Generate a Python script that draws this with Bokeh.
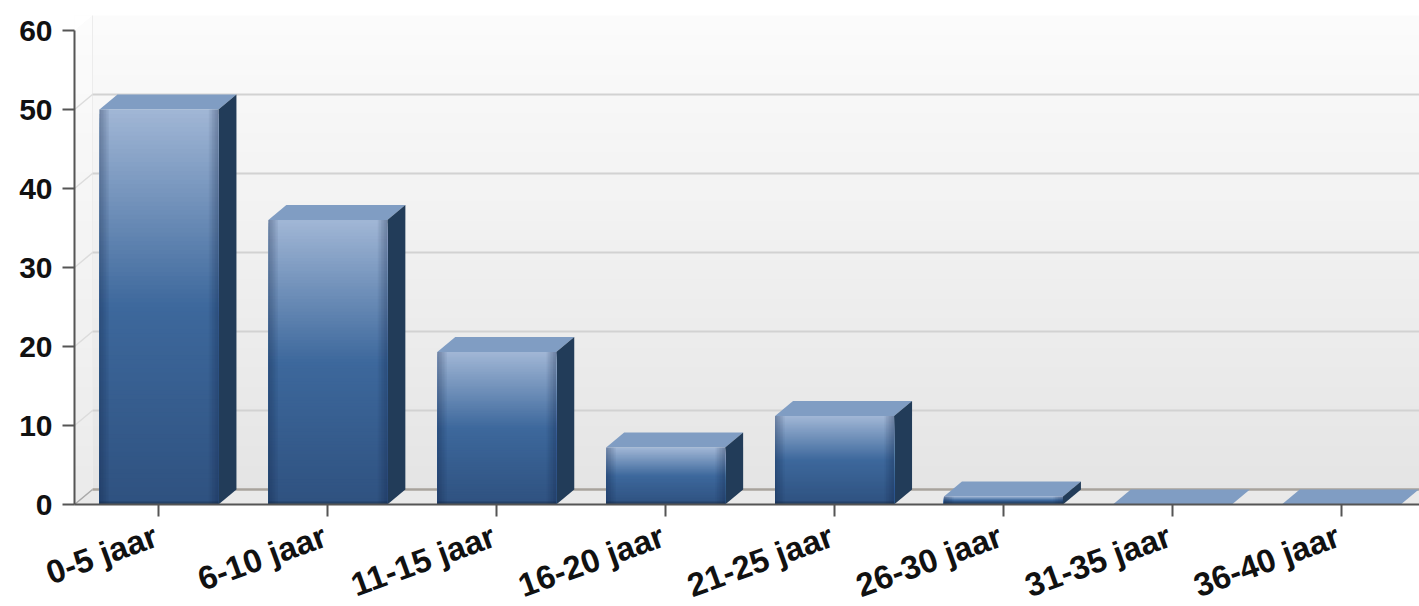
import math
from bokeh.plotting import figure
from bokeh.models import Range1d, FixedTicker
from bokeh.core.properties import value
from bokeh.embed import file_html
from bokeh.resources import INLINE

categories = ["0-5 jaar", "6-10 jaar", "11-15 jaar", "16-20 jaar", "21-25 jaar", "26-30 jaar", "31-35 jaar", "36-40 jaar"]
values = [50, 36, 19.3, 7.2, 11.2, 1, 0, 0]
y_ticks = [0, 10, 20, 30, 40, 50, 60]

UNIT_X = 168.9
UNIT_Y = 7.9
DX = 18 / UNIT_X
DY = 15 / UNIT_Y
BAR_W = 119 / UNIT_X
X_END = 1345 / UNIT_X
X_START = -74 / UNIT_X
WALL_TOP = 60 + DY
Y_END = WALL_TOP + 15 / UNIT_Y
Y_START = -102 / UNIT_Y


def hexmix(a, b, t):
    ca = [int(a[i:i + 2], 16) for i in (1, 3, 5)]
    cb = [int(b[i:i + 2], 16) for i in (1, 3, 5)]
    return "#%02x%02x%02x" % tuple(round(x + (y - x) * t) for x, y in zip(ca, cb))


def ramp(t):
    if t < 0.5:
        return hexmix("#a0b6d5", "#3d689c", t / 0.5)
    return hexmix("#3d689c", "#2f5280", (t - 0.5) / 0.5)


p = figure(width=1419, height=606, output_backend="svg", toolbar_location=None,
           x_range=Range1d(X_START, X_END), y_range=Range1d(Y_START, Y_END),
           min_border_left=0, min_border_right=0, min_border_top=0, min_border_bottom=0,
           outline_line_color=None, background_fill_color="white")
p.grid.visible = False

# back wall gradient
N = 50
for i in range(N):
    t = i / (N - 1)
    top = WALL_TOP * (1 - i / N)
    p.quad(left=0, right=X_END, top=top, bottom=0, fill_color=hexmix("#fbfbfb", "#e4e4e4", t), line_color=None)

# left wall
p.patch([0, DX, DX, 0], [0, DY, WALL_TOP, 60], fill_color="#ffffff", fill_alpha=0.25, line_color=None)
p.patch([0, DX, 0], [60, WALL_TOP, WALL_TOP], fill_color="#ffffff", line_color=None)
p.line([DX, DX], [DY, WALL_TOP], line_color="#ececec", line_width=1)

# floor
p.patch([0, DX, X_END, X_END, 0], [0, DY, DY, 0, 0], fill_color="#e9e9e9", line_color=None)

# grid lines on wall and side wall
for v in y_ticks[1:-1]:
    p.line([DX, X_END], [v + DY, v + DY], line_color="#d2d2d2", line_width=2)
    p.line([0, DX], [v, v + DY], line_color="#dcdcdc", line_width=1.5)
p.line([DX, X_END], [DY, DY], line_color="#a8a39c", line_width=2.5)
p.line([0, DX], [0, DY], line_color="#a8a8a8", line_width=1.5)

# bars
for i, v in enumerate(values):
    c = i + 0.5
    l, r = c - BAR_W / 2, c + BAR_W / 2
    # top face
    p.patch([l, l + DX, r + DX, r], [v, v + DY, v + DY, v], fill_color="#809dc3", line_color=None)
    if v <= 0:
        continue
    # side face
    p.patch([r, r + DX, r + DX, r], [0, DY, v + DY, v], fill_color="#223c59", line_color=None)
    # front face gradient
    S = 90
    for s in range(S):
        p.quad(left=l, right=r, top=v * (1 - s / S), bottom=0, fill_color=ramp(s / (S - 1)), line_color=None)
    # edge shading
    E = 6
    for e in range(E):
        w = (E - e) * 1.6 / UNIT_X
        p.quad(left=l, right=l + w, top=v, bottom=0, fill_color="#10243c", fill_alpha=0.06, line_color=None)
        p.quad(left=r - w, right=r, top=v, bottom=0, fill_color="#10243c", fill_alpha=0.06, line_color=None)
    # bottom dark
    p.quad(left=l, right=r, top=min(v, 3 / UNIT_Y), bottom=0, fill_color="#10243c", fill_alpha=0.35, line_color=None)

# axes
xa = p.xaxis[0]
ticks = [i + 0.5 for i in range(len(categories))]
xa.ticker = FixedTicker(ticks=ticks)
xa.major_label_overrides = {t: "" for t in ticks}
xa.fixed_location = 0
xa.bounds = (0, X_END)
xa.minor_tick_line_color = None
ya = p.yaxis[0]
ya.ticker = FixedTicker(ticks=y_ticks)
ya.fixed_location = 0
ya.bounds = (0, 60)
ya.minor_tick_line_color = None
for ax in (xa, ya):
    ax.axis_line_color = "#555555"
    ax.axis_line_width = 2
    ax.major_tick_line_color = "#555555"
    ax.major_tick_line_width = 2
    ax.major_tick_out = 12
    ax.major_tick_in = 0
ya.major_label_text_font = "Liberation Sans"
ya.major_label_text_font_style = "bold"
ya.major_label_text_color = "#111111"
ya.major_label_text_font_size = "30px"
ya.major_label_standoff = 10

p.text(x=ticks, y=[0] * len(ticks), text=categories, x_offset=-3, y_offset=30,
       angle=20, angle_units="deg", text_align="right", text_baseline="alphabetic",
       text_font=value("Liberation Sans"), text_font_style="bold",
       text_font_size="33px", text_color="#111111")

open("out.html", "w").write(file_html(p, INLINE))
